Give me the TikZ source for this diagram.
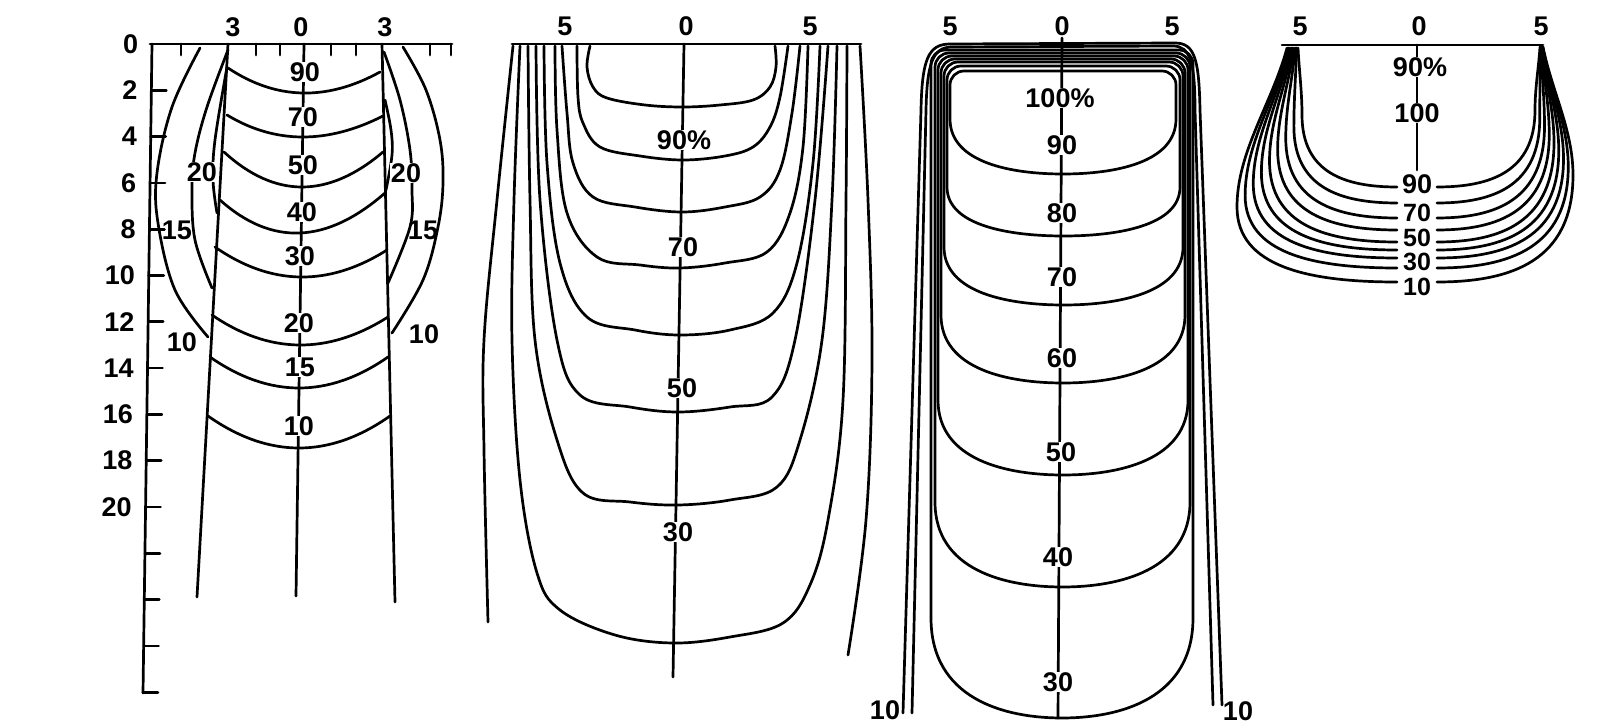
\documentclass[tikz,border=0pt]{standalone}
\usepackage{fontspec}
\setmainfont{Liberation Sans}
% sagging isoline through (xl,yl), lowest near (xc,yc), to (xr,yr)
\newcommand\sagline[6]{%
  \pgfmathsetmacro\sgcx{2*#3-(#1+#5)/2}%
  \pgfmathsetmacro\sgcy{2*#4-(#2+#6)/2}%
  \pgfmathsetmacro\sgax{#1+2/3*(\sgcx-#1)}%
  \pgfmathsetmacro\sgay{#2+2/3*(\sgcy-#2)}%
  \pgfmathsetmacro\sgbx{#5+2/3*(\sgcx-#5)}%
  \pgfmathsetmacro\sgby{#6+2/3*(\sgcy-#6)}%
  \draw (#1,#2) .. controls (\sgax,\sgay) and (\sgbx,\sgby) .. (#5,#6);}
% closed rounded U contour: xl xr ytop ybottom sidedrop radius
\newcommand\Ucont[6]{%
  \pgfmathsetmacro\uxm{(#1+#2)/2}%
  \pgfmathsetmacro\uyc{#4-#5}%
  \pgfmathsetmacro\uya{#4-0.2*#5}%
  \pgfmathsetmacro\uxa{#2-0.55*(#2-\uxm)}%
  \pgfmathsetmacro\uxb{#1+0.55*(\uxm-#1)}%
  \pgfmathsetmacro\uxl{#1+#6}\pgfmathsetmacro\uxr{#2-#6}%
  \pgfmathsetmacro\uyt{#3+#6}%
  \pgfmathsetmacro\ucl{#1+0.45*#6}\pgfmathsetmacro\ucr{#2-0.45*#6}%
  \pgfmathsetmacro\ucy{#3+0.45*#6}%
  \draw (\uxl,#3) -- (\uxr,#3) .. controls (\ucr,#3) and (#2,\ucy) .. (#2,\uyt)
    -- (#2,\uyc) .. controls (#2,\uya) and (\uxa,#4) .. (\uxm,#4)
    .. controls (\uxb,#4) and (#1,\uya) .. (#1,\uyc) -- (#1,\uyt)
    .. controls (#1,\ucy) and (\ucl,#3) .. (\uxl,#3);}
% panel 4 contour pair: k, end y
\newcommand\Pfour[2]{%
  \pgfmathsetmacro\pxo{1298-11*#1/8}%
  \pgfmathsetmacro\pxb{1302-65*#1/8}%
  \pgfmathsetmacro\pyb{115+92*#1/8}%
  \pgfmathsetmacro\pca{\pxb+0.45*(1397-\pxb)}%
  \pgfmathsetmacro\pcb{\pyb+0.8*(#2-\pyb)}%
  \pgfmathsetmacro\pcc{\pyb-0.35*(\pyb-48)}%
  \pgfmathsetmacro\pcd{\pxo-0.3*(\pxo-\pxb)}%
  \pgfmathsetmacro\pce{48+0.35*(\pyb-48)}%
  \draw (1397,#2) .. controls (\pca,#2) and (\pxb,\pcb) .. (\pxb,\pyb)
    .. controls (\pxb,\pcc) and (\pcd,\pce) .. (\pxo,48);
  \pgfmathsetmacro\qxo{1540+3*#1/8}%
  \pgfmathsetmacro\qxb{1535+38*#1/8}%
  \pgfmathsetmacro\qyb{110+65*#1/8}%
  \pgfmathsetmacro\qca{\qxb-0.45*(\qxb-1437)}%
  \pgfmathsetmacro\qcb{\qyb+0.8*(#2-\qyb)}%
  \pgfmathsetmacro\qcc{\qyb-0.35*(\qyb-47)}%
  \pgfmathsetmacro\qcd{\qxo+0.3*(\qxb-\qxo)}%
  \pgfmathsetmacro\qce{47+0.35*(\qyb-47)}%
  \draw (1437,#2) .. controls (\qca,#2) and (\qxb,\qcb) .. (\qxb,\qyb)
    .. controls (\qxb,\qcc) and (\qcd,\qce) .. (\qxo,47);}
\begin{document}
\begin{tikzpicture}[x=1pt,y=-1pt,line width=2.7pt,line cap=round,line join=round,
  lab/.style={font=\fontsize{27}{27}\selectfont\bfseries,inner sep=0.5pt},
  clab/.style={lab,fill=white},
  slab/.style={font=\fontsize{25}{25}\selectfont\bfseries,inner sep=0pt},
  contour/.style={smooth,tension=0.6}]
\fill[white] (0,0) rectangle (1617,727);
\useasboundingbox (0,0) rectangle (1617,727);

% ================= Panel 1 =================
\draw (150,44) -- (452,44);
\draw (152,44) -- (143,693);
\foreach \d in {2,4,...,28}{%
  \pgfmathsetmacro\yy{44+23.15*\d}%
  \pgfmathsetmacro\xx{152-9*(\yy-44)/649}%
  \draw (\xx,\yy) -- ++(15,0);}
\foreach \d in {0,2,...,20}{%
  \pgfmathsetmacro\yy{44+23.15*\d}%
  \pgfmathsetmacro\xx{152-9*(\yy-44)/649-12}%
  \node[lab,anchor=east] (dl\d) at (\xx,\yy) {\d};}
\foreach \x in {181,256,280,331,356,430,451}{\draw (\x,44) -- ++(0,11);}
\node[lab] (t1a) at (233,27) {3};
\node[lab] (t1b) at (301,27) {0};
\node[lab] (t1c) at (385,27) {3};
% boundary lines and centre
\draw (228,44) -- (197,597);
\draw (382,44) -- (395,602);
\draw (304,44) -- (296,596);
% side arcs left
\draw plot[contour] coordinates {(200,48) (172,107) (157,173) (158,223) (175,290) (208,337)};
\draw plot[contour] coordinates {(228,50) (207,107) (195,153) (192,190) (195,240) (212,288)};
\draw plot[contour] coordinates {(227,67) (215,140) (213,180) (217,213)};
% side arcs right
\draw plot[contour] coordinates {(403,47) (426,90) (440,140) (443,183) (438,227) (423,280) (392,333)};
\draw plot[contour] coordinates {(384,52) (400,100) (410,150) (412,190) (410,227) (388,283)};
\draw plot[contour] coordinates {(385,100) (391,130) (392,155) (386,190)};
% isolines
\sagline{228}{68}{302}{93}{380}{72}
\sagline{227}{115}{302}{137}{383}{116}
\sagline{224}{152}{302}{187}{383}{152}
\sagline{220}{200}{300}{233}{385}{193}
\sagline{215}{247}{300}{277}{387}{250}
\sagline{212}{315}{299}{345}{388}{317}
\sagline{210}{357}{299}{388}{388}{357}
\sagline{208}{416}{299}{448}{390}{416}
\node[clab] (p1a) at (305,72) {90};
\node[clab] (p1b) at (303,117) {70};
\node[clab] (p1c) at (303,165) {50};
\node[clab] (p1d) at (302,212) {40};
\node[clab] (p1e) at (300,256) {30};
\node[clab] (p1f) at (299,323) {20};
\node[clab] (p1g) at (300,367) {15};
\node[clab] (p1h) at (299,426) {10};
\node[clab] (s1a) at (202,172) {20};
\node[lab] (s1b) at (177,230) {15};
\node[lab] (s1c) at (182,342) {10};
\node[clab] (s1d) at (406,173) {20};
\node[lab] (s1e) at (423,230) {15};
\node[lab] (s1f) at (424,334) {10};

% ================= Panel 2 =================
\draw (512,44) -- (861,44);
\draw (684,44) -- (673,677);
\draw plot[contour] coordinates {(590,46) (587,67) (593,87) (607,98) (645,105) (683,107) (720,105) (753,100) (770,87) (776,67) (775,46)};
\draw plot[contour] coordinates {(577,46) (578,97) (583,123) (600,147) (640,156) (683,160) (725,156) (753,147) (770,127) (780,97) (788,46)};
\draw plot[contour] coordinates {(562,46) (567,113) (573,163) (593,197) (635,207) (682,212) (725,207) (760,197) (780,170) (792,113) (800,46)};
\draw plot[contour] coordinates {(555,46) (557,130) (567,213) (597,257) (640,265) (680,268) (725,263) (767,252) (790,213) (803,147) (808,46)};
\draw plot[contour] coordinates {(544,46) (547,163) (560,263) (587,317) (635,330) (680,335) (730,330) (773,313) (797,263) (813,163) (820,46)};
\draw plot[contour] coordinates {(536,46) (540,200) (557,340) (580,395) (630,407) (678,412) (730,407) (772,397) (795,340) (815,200) (828,46)};
\draw plot[contour] coordinates {(528,46) (530,200) (535,340) (557,440) (583,493) (630,502) (678,505) (730,500) (777,487) (800,440) (822,340) (832,200) (837,46)};
\draw plot[contour] coordinates {(520,46) (514,200) (512,340) (520,480) (537,573) (560,610) (615,635) (673,643) (730,637) (783,623) (810,585) (828,520) (843,400) (846,200) (847,46)};
\draw plot[contour] coordinates {(513,46) (497,200) (484,340) (484,450) (488,622)};
\draw plot[contour] coordinates {(860,46) (868,200) (872,360) (866,520) (848,655)};
\node[lab] (t2a) at (565,26) {5};
\node[lab] (t2b) at (686,26) {0};
\node[lab] (t2c) at (810,26) {5};
\node[clab] (p2a) at (684,140) {90\%};
\node[clab] (p2b) at (683,247) {70};
\node[clab] (p2c) at (682,388) {50};
\node[clab] (p2d) at (678,532) {30};

% ================= Panel 3 =================
\draw (1062,38) -- (1058,718);
\Ucont{950}{1176}{71}{174}{55}{14}
\Ucont{947}{1180}{66}{236}{49}{14}
\Ucont{944}{1183}{62}{305}{58}{14}
\Ucont{941}{1185}{59}{383}{68}{14}
\Ucont{938}{1188}{56}{475}{75}{14}
\Ucont{935}{1190}{53}{587}{85}{14}
\Ucont{931}{1193}{50}{718}{100}{14}
\draw (903,713) -- (921,110) .. controls (922,60) and (928,44) .. (950,44) -- (1175,43) .. controls (1195,43) and (1199,60) .. (1200,110) -- (1222,705);
\draw (912,713) -- (926,110) .. controls (927,65) and (932,47) .. (952,47) -- (1173,46) .. controls (1190,46) and (1195,62) .. (1195,110) -- (1213,705);
\node[lab] (t3a) at (950,26) {5};
\node[lab] (t3b) at (1062,26) {0};
\node[lab] (t3c) at (1172,26) {5};
\node[clab] (p3a) at (1060,98) {100\%};
\node[clab] (p3b) at (1062,145) {90};
\node[clab] (p3c) at (1062,213) {80};
\node[clab] (p3d) at (1062,277) {70};
\node[clab] (p3e) at (1062,358) {60};
\node[clab] (p3f) at (1061,452) {50};
\node[clab] (p3g) at (1058,557) {40};
\node[clab] (p3h) at (1058,682) {30};
\node[lab] (p3i) at (885,710) {10};
\node[lab] (p3j) at (1238,711) {10};

% ================= Panel 4 =================
\draw (1282,45) -- (1543,45);
\draw (1417,45) -- (1417,170);
\foreach \k/\ye in {0/187,1/203,2/218,3/230,4/242,5/250,6/258,7/268,8/282}{\Pfour{\k}{\ye}}
\node[lab] (t4a) at (1300,26) {5};
\node[lab] (t4b) at (1419,26) {0};
\node[lab] (t4c) at (1541,26) {5};
\node[clab] (p4a) at (1420,67) {90\%};
\node[clab] (p4b) at (1417,113) {100};
\node[lab] (p4c) at (1417,184) {90};
\node[slab] (p4d) at (1417,213) {70};
\node[slab] (p4e) at (1417,238) {50};
\node[slab] (p4f) at (1417,262) {30};
\node[slab] (p4g) at (1417,287) {10};
\end{tikzpicture}
\end{document}
